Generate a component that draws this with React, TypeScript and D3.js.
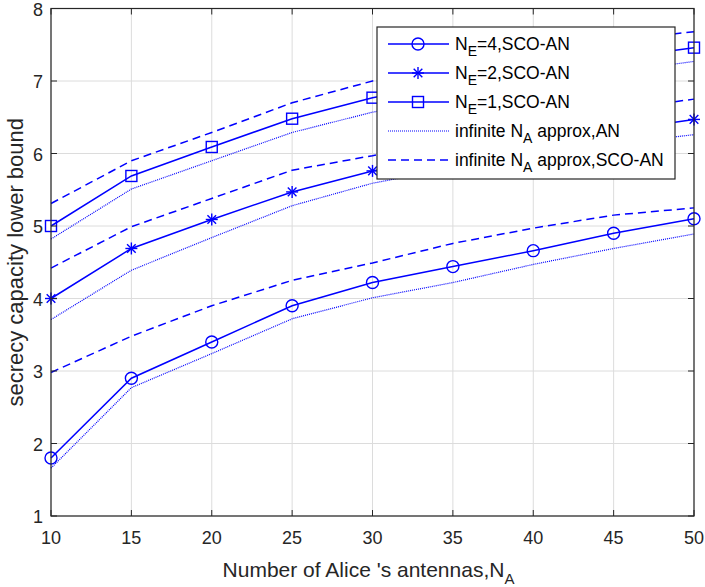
import * as d3 from 'd3';

// x positions (number of Alice's antennas)
const antennas = [10, 15, 20, 25, 30, 35, 40, 45, 50];

// N_E = 4
const ne4Sco = [1.8, 2.9, 3.4, 3.9, 4.22, 4.44, 4.66, 4.9, 5.1];
const ne4Approx = [1.66, 2.77, 3.24, 3.72, 4.01, 4.22, 4.47, 4.69, 4.89];
const ne4ApproxSco = [2.98, 3.48, 3.9, 4.25, 4.49, 4.76, 4.97, 5.15, 5.25];

// N_E = 2
const ne2Sco = [4.0, 4.69, 5.09, 5.47, 5.76, 5.97, 6.14, 6.31, 6.47];
const ne2Approx = [3.71, 4.39, 4.84, 5.28, 5.59, 5.8, 5.98, 6.13, 6.26];
const ne2ApproxSco = [4.42, 4.99, 5.38, 5.77, 5.97, 6.2, 6.41, 6.6, 6.75];

// N_E = 1
const ne1Sco = [5.0, 5.69, 6.09, 6.48, 6.77, 6.98, 7.16, 7.31, 7.46];
const ne1Approx = [4.82, 5.51, 5.9, 6.29, 6.57, 6.78, 6.96, 7.12, 7.27];
const ne1ApproxSco = [5.31, 5.9, 6.29, 6.7, 7.0, 7.22, 7.41, 7.56, 7.68];

const xTicks = [10, 15, 20, 25, 30, 35, 40, 45, 50];
const yTicks = [1, 2, 3, 4, 5, 6, 7, 8];

const BLUE = '#0000ff';
const AXIS = '#262626';
const FONT = 'Liberation Sans, Arial, Helvetica, sans-serif';

type Marker = 'circle' | 'star' | 'square' | 'none';

function MarkerShape({ kind, x, y }: { kind: Marker; x: number; y: number }) {
  if (kind === 'circle') {
    return <circle cx={x} cy={y} r={6} fill="none" stroke={BLUE} strokeWidth={1.4} />;
  }
  if (kind === 'square') {
    return <rect x={x - 5.5} y={y - 5.5} width={11} height={11} fill="none" stroke={BLUE} strokeWidth={1.4} />;
  }
  if (kind === 'star') {
    const r = 6;
    const d = r * 0.72;
    return (
      <g stroke={BLUE} strokeWidth={1.4}>
        <line x1={x - r} y1={y} x2={x + r} y2={y} />
        <line x1={x} y1={y - r} x2={x} y2={y + r} />
        <line x1={x - d} y1={y - d} x2={x + d} y2={y + d} />
        <line x1={x - d} y1={y + d} x2={x + d} y2={y - d} />
      </g>
    );
  }
  return null;
}

export default function App() {
  const width = 705;
  const height = 587;
  const left = 51;
  const right = 694;
  const top = 8.5;
  const bottom = 516;

  const x = d3.scaleLinear().domain([10, 50]).range([left, right]);
  const y = d3.scaleLinear().domain([1, 8]).range([bottom, top]);

  const line = d3
    .line<number>()
    .x((_, i) => x(antennas[i]))
    .y((d) => y(d));

  // approximations first, then the solid lines with markers on top
  const series: { values: number[]; marker: Marker; dash?: string; sw: number }[] = [
    { values: ne4ApproxSco, marker: 'none', dash: '8,5', sw: 1.5 },
    { values: ne2ApproxSco, marker: 'none', dash: '8,5', sw: 1.5 },
    { values: ne1ApproxSco, marker: 'none', dash: '8,5', sw: 1.5 },
    { values: ne4Approx, marker: 'none', dash: '1,1', sw: 1.2 },
    { values: ne2Approx, marker: 'none', dash: '1,1', sw: 1.2 },
    { values: ne1Approx, marker: 'none', dash: '1,1', sw: 1.2 },
    { values: ne4Sco, marker: 'circle', sw: 1.5 },
    { values: ne2Sco, marker: 'star', sw: 1.5 },
    { values: ne1Sco, marker: 'square', sw: 1.5 },
  ];

  const legendItems: { label: string; sub: string; rest: string; marker: Marker; dash?: string; sw: number }[] = [
    { label: 'N', sub: 'E', rest: '=4,SCO-AN', marker: 'circle', sw: 1.5 },
    { label: 'N', sub: 'E', rest: '=2,SCO-AN', marker: 'star', sw: 1.5 },
    { label: 'N', sub: 'E', rest: '=1,SCO-AN', marker: 'square', sw: 1.5 },
    { label: 'infinite N', sub: 'A', rest: ' approx,AN', marker: 'none', dash: '1,1', sw: 1.2 },
    { label: 'infinite N', sub: 'A', rest: ' approx,SCO-AN', marker: 'none', dash: '8,5', sw: 1.5 },
  ];

  const legX = 377;
  const legY = 27;
  const legW = 298;
  const legH = 152;
  const rowY = [44, 73, 102, 131, 160];

  return (
    <svg width={width} height={height} style={{ position: 'absolute', left: 0, top: 0 }} fontFamily={FONT}>
      <rect width={width} height={height} fill="#fff" />

      {/* grid */}
      <g stroke="#dcdcdc" strokeWidth={1}>
        {xTicks.map((t) => (
          <line key={`gx${t}`} x1={x(t)} x2={x(t)} y1={top} y2={bottom} />
        ))}
        {yTicks.map((t) => (
          <line key={`gy${t}`} x1={left} x2={right} y1={y(t)} y2={y(t)} />
        ))}
      </g>

      {/* data lines */}
      {series.map((s, i) => (
        <g key={i}>
          <path d={line(s.values) ?? ''} fill="none" stroke={BLUE} strokeWidth={s.sw} strokeDasharray={s.dash} />
          {s.values.map((v, j) => (
            <MarkerShape key={j} kind={s.marker} x={x(antennas[j])} y={y(v)} />
          ))}
        </g>
      ))}

      {/* axes box and ticks */}
      <rect x={left} y={top} width={right - left} height={bottom - top} fill="none" stroke={AXIS} strokeWidth={1.2} />
      <g stroke={AXIS} strokeWidth={1}>
        {xTicks.map((t) => (
          <g key={`tx${t}`}>
            <line x1={x(t)} x2={x(t)} y1={bottom} y2={bottom - 6} />
            <line x1={x(t)} x2={x(t)} y1={top} y2={top + 6} />
          </g>
        ))}
        {yTicks.map((t) => (
          <g key={`ty${t}`}>
            <line x1={left} x2={left + 6} y1={y(t)} y2={y(t)} />
            <line x1={right} x2={right - 6} y1={y(t)} y2={y(t)} />
          </g>
        ))}
      </g>

      {/* tick labels */}
      <g fontSize={18} fill={AXIS}>
        {xTicks.map((t) => (
          <text key={`lx${t}`} x={x(t)} y={bottom + 28} textAnchor="middle">
            {t}
          </text>
        ))}
        {yTicks.map((t) => (
          <text key={`ly${t}`} x={left - 8} y={y(t) + 7} textAnchor="end">
            {t}
          </text>
        ))}
      </g>

      {/* axis labels */}
      <text x={(left + right) / 2 - 4} y={577} textAnchor="middle" fontSize={21} fill={AXIS}>
        Number of Alice 's antennas,N
        <tspan fontSize={15} dy={7}>A</tspan>
      </text>
      <text
        transform={`translate(23, ${(top + bottom) / 2}) rotate(-90)`}
        textAnchor="middle"
        fontSize={22}
        fill={AXIS}
      >
        secrecy capacity lower bound
      </text>

      {/* legend */}
      <rect x={legX} y={legY} width={legW} height={legH} fill="#fff" stroke={AXIS} strokeWidth={1.2} />
      {legendItems.map((it, i) => (
        <g key={`leg${i}`}>
          <line x1={388} x2={449} y1={rowY[i]} y2={rowY[i]} stroke={BLUE} strokeWidth={it.sw} strokeDasharray={it.dash} />
          <MarkerShape kind={it.marker} x={418} y={rowY[i]} />
          <text x={455} y={rowY[i] + 6} fontSize={17.5} fill="#000">
            {it.label}
            <tspan fontSize={14} dy={6}>{it.sub}</tspan>
            <tspan dy={-6}>{it.rest}</tspan>
          </text>
        </g>
      ))}
    </svg>
  );
}
